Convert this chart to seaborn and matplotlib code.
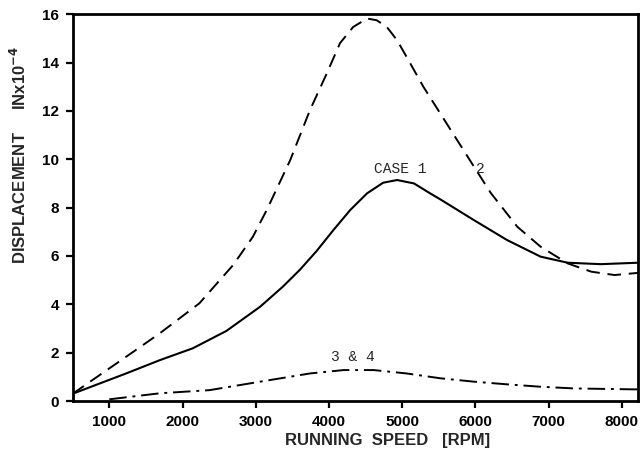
import matplotlib
matplotlib.use("Agg")
import matplotlib.pyplot as plt
import seaborn as sns
import pandas as pd

# Running speed (RPM) and displacement (in x 10^-4) for each case
case1_rpm = [500, 1230, 1690, 2140, 2600, 3060, 3370, 3600, 3830, 4060, 4290, 4520, 4740, 4930, 5160, 5380, 5520, 5980, 6430, 6890, 7260, 7710, 8220]
case1_disp = [0.30, 1.14, 1.69, 2.18, 2.90, 3.90, 4.73, 5.42, 6.20, 7.07, 7.90, 8.59, 9.03, 9.14, 9.00, 8.59, 8.34, 7.48, 6.66, 5.97, 5.72, 5.66, 5.72]

case2_rpm = [500, 1230, 1690, 2230, 2690, 2960, 3150, 3470, 3740, 3970, 4150, 4330, 4520, 4650, 4790, 4930, 5060, 5290, 5520, 5750, 5980, 6210, 6570, 6890, 7260, 7580, 7900, 8220]
case2_disp = [0.30, 1.83, 2.80, 4.04, 5.62, 6.79, 7.90, 9.96, 12.03, 13.55, 14.80, 15.47, 15.82, 15.75, 15.47, 14.92, 14.23, 12.99, 11.89, 10.79, 9.69, 8.60, 7.21, 6.38, 5.69, 5.35, 5.21, 5.30]

case34_rpm = [1000, 1690, 2370, 3060, 3740, 4200, 4610, 5060, 5520, 5980, 6430, 6890, 7350, 8220]
case34_disp = [0.07, 0.32, 0.45, 0.80, 1.14, 1.28, 1.28, 1.14, 0.94, 0.80, 0.69, 0.59, 0.52, 0.48]

x_ticks = [1000, 2000, 3000, 4000, 5000, 6000, 7000, 8000]
y_ticks = [0, 2, 4, 6, 8, 10, 12, 14, 16]

sns.set_style("ticks")
plt.rcParams["font.family"] = ["Liberation Sans", "DejaVu Sans"]

fig = plt.figure(figsize=(6.4, 4.57), dpi=100)
ax = fig.add_axes([0.1135, 0.1225, 0.8835, 0.8465])

df1 = pd.DataFrame({"rpm": case1_rpm, "disp": case1_disp})
df2 = pd.DataFrame({"rpm": case2_rpm, "disp": case2_disp})
df34 = pd.DataFrame({"rpm": case34_rpm, "disp": case34_disp})

sns.lineplot(data=df1, x="rpm", y="disp", ax=ax, color="black", linewidth=1.5)
sns.lineplot(data=df2, x="rpm", y="disp", ax=ax, color="black", linewidth=1.4,
             dashes=False, linestyle=(0, (7, 4)))
sns.lineplot(data=df34, x="rpm", y="disp", ax=ax, color="black", linewidth=1.4,
             dashes=False, linestyle=(0, (9, 3, 1.5, 3)))

ax.set_xlim(500, 8220)
ax.set_ylim(0, 16)
ax.set_xticks(x_ticks)
ax.set_yticks(y_ticks)
ax.set_xticklabels([str(t) for t in x_ticks], fontsize=11, fontweight="bold")
ax.set_yticklabels([str(t) for t in y_ticks], fontsize=11, fontweight="bold")
ax.tick_params(axis="both", direction="out", length=5, width=1.6, pad=5, colors="black")

for side in ["left", "right", "top", "bottom"]:
    ax.spines[side].set_visible(True)
    ax.spines[side].set_linewidth(2.0)
    ax.spines[side].set_color("black")

ax.set_xlabel("")
ax.set_ylabel("")
fig.text(0.605, 0.037, "RUNNING  SPEED   [RPM]", ha="center", va="center",
         fontsize=12, fontweight="bold")
fig.text(0.03, 0.66, r"DISPLACEMENT     INx10$^{\mathbf{-4}}$", rotation=90,
         ha="center", va="center", fontsize=12, fontweight="bold")

# Curve labels
ax.text(4970, 9.6, "CASE 1", fontsize=10.5, family="Liberation Mono", ha="center", va="center")
ax.text(6070, 9.6, "2", fontsize=10.5, family="Liberation Mono", ha="center", va="center")
ax.text(4330, 1.8, "3 & 4", fontsize=10.5, family="Liberation Mono", ha="center", va="center")

fig.savefig("out.png", dpi=100)
